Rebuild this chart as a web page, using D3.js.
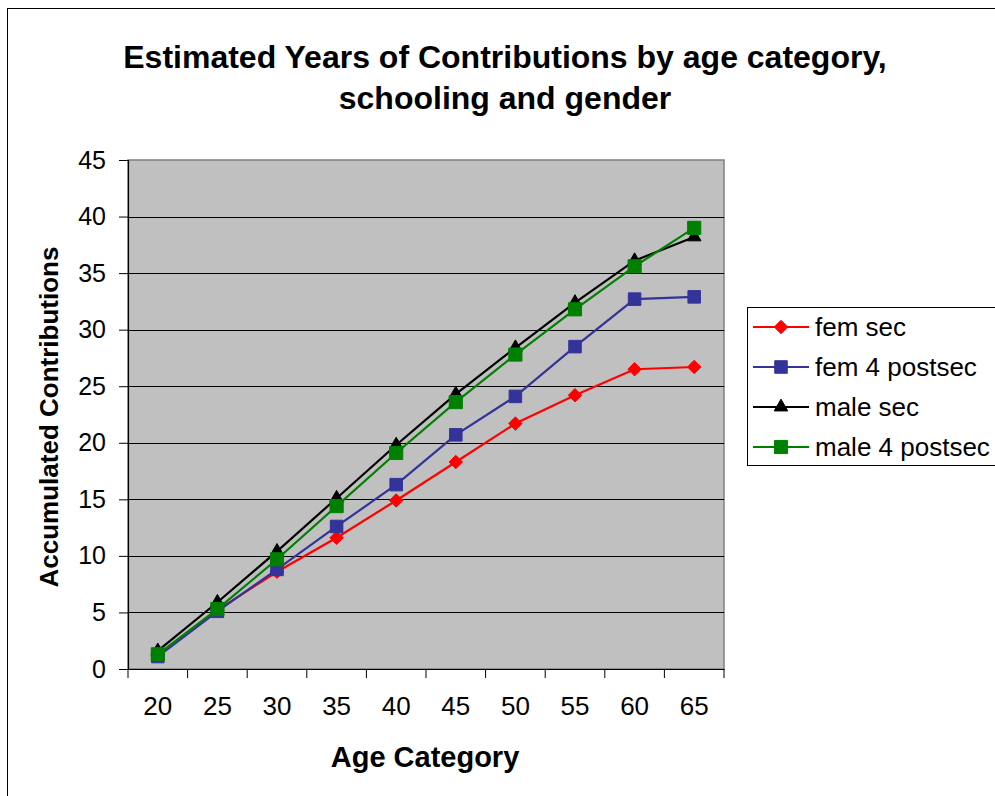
<!DOCTYPE html>
<html>
<head>
<meta charset="utf-8">
<script src="https://cdn.jsdelivr.net/npm/d3@7/dist/d3.min.js"></script>
<style>
  html, body { margin: 0; padding: 0; background: #fff; }
  svg { display: block; font-family: "Liberation Sans", Arial, sans-serif; }
</style>
</head>
<body>
<svg id="chart" width="995" height="796"></svg>
<script>
const categories = ["20", "25", "30", "35", "40", "45", "50", "55", "60", "65"];
const femSec      = [1.2, 5.2, 8.6, 11.6, 14.9, 18.3, 21.7, 24.2, 26.5, 26.7];
const fem4Postsec = [1.1, 5.1, 8.8, 12.6, 16.3, 20.7, 24.1, 28.5, 32.7, 32.9];
const maleSec     = [1.6, 5.9, 10.4, 15.1, 19.8, 24.3, 28.4, 32.4, 36.1, 38.2];
const male4Postsec= [1.3, 5.3, 9.7, 14.4, 19.1, 23.6, 27.8, 31.8, 35.6, 39.0];
const yTicks = [0, 5, 10, 15, 20, 25, 30, 35, 40, 45];
const seriesNames = ["fem sec", "fem 4 postsec", "male sec", "male 4 postsec"];

const series = [
  { name: seriesNames[0], values: femSec,       color: "#FF0000", marker: "diamond" },
  { name: seriesNames[1], values: fem4Postsec,  color: "#333399", marker: "square" },
  { name: seriesNames[2], values: maleSec,      color: "#000000", marker: "triangle" },
  { name: seriesNames[3], values: male4Postsec, color: "#008000", marker: "squareL" }
];

const svg = d3.select("#chart");
const plot = { left: 128, right: 724, top: 160, bottom: 669 };
const FONT = "'Liberation Sans', Arial, sans-serif";

// outer frame
svg.append("rect").attr("x", 7.5).attr("y", 8.5).attr("width", 1000).attr("height", 800)
  .attr("fill", "#fff").attr("stroke", "#000").attr("stroke-width", 1);

const x = d3.scaleBand().domain(categories).range([plot.left, plot.right]);
const y = d3.scaleLinear().domain([0, 45]).range([plot.bottom, plot.top]);

// plot background
svg.append("rect").attr("x", plot.left).attr("y", plot.top)
  .attr("width", plot.right - plot.left).attr("height", plot.bottom - plot.top)
  .attr("fill", "#C0C0C0").attr("stroke", "#808080").attr("stroke-width", 1.5);

// gridlines
svg.append("g").selectAll("line").data(yTicks.filter(t => t > 0 && t < 45)).join("line")
  .attr("x1", plot.left).attr("x2", plot.right)
  .attr("y1", d => Math.round(y(d)) + 0.5).attr("y2", d => Math.round(y(d)) + 0.5)
  .attr("stroke", "#000").attr("stroke-width", 1);

// y axis
const yAxis = d3.axisLeft(y).tickValues(yTicks).tickSize(9).tickPadding(13);
const gy = svg.append("g").attr("transform", `translate(${plot.left},0)`).call(yAxis);
gy.select(".domain").attr("stroke", "#000").attr("stroke-width", 1.2);
gy.selectAll(".tick line").attr("stroke", "#000");
gy.selectAll(".tick text").attr("font-size", 25).attr("fill", "#000").attr("font-family", FONT);

// x axis
const xAxis = d3.axisBottom(x).tickSize(0).tickPadding(28);
const gx = svg.append("g").attr("transform", `translate(0,${plot.bottom})`).call(xAxis);
gx.select(".domain").attr("stroke", "#000").attr("stroke-width", 1.2);
gx.selectAll(".tick text").attr("font-size", 26).attr("fill", "#000").attr("font-family", FONT);
// tick marks at band boundaries
const bounds = categories.map(c => x(c)).concat([x(categories[categories.length - 1]) + x.bandwidth()]);
gx.append("g").selectAll("line").data(bounds).join("line")
  .attr("x1", d => d).attr("x2", d => d).attr("y1", 0).attr("y2", 9)
  .attr("stroke", "#000").attr("stroke-width", 1);

// lines and markers
const line = d3.line().x((d, i) => x(categories[i]) + x.bandwidth() / 2).y(d => y(d));
const symbolFor = {
  diamond: d3.symbol().type(d3.symbolDiamond2).size(115),
  square: d3.symbol().type(d3.symbolSquare2).size(200),
  triangle: d3.symbol().type(d3.symbolTriangle).size(80),
  squareL: d3.symbol().type(d3.symbolSquare2).size(220)
};
series.forEach(s => {
  const g = svg.append("g");
  g.append("path").datum(s.values).attr("d", line)
    .attr("fill", "none").attr("stroke", s.color).attr("stroke-width", 2.2);
  g.selectAll("path.m").data(s.values).join("path").attr("class", "m")
    .attr("transform", (d, i) => `translate(${x(categories[i]) + x.bandwidth() / 2},${y(d)})`)
    .attr("d", symbolFor[s.marker]())
    .attr("fill", s.color).attr("stroke", s.color).attr("stroke-width", 1);
});

// title
const title = svg.append("text").attr("text-anchor", "middle").attr("font-weight", "bold")
  .attr("font-size", 32).attr("fill", "#000");
title.append("tspan").attr("x", 505).attr("y", 68).text("Estimated Years of Contributions by age category,");
title.append("tspan").attr("x", 505).attr("y", 109).text("schooling and gender");

// axis titles
svg.append("text").attr("x", 425).attr("y", 767).attr("text-anchor", "middle")
  .attr("font-weight", "bold").attr("font-size", 29).text("Age Category");
svg.append("text").attr("transform", "translate(58,417) rotate(-90)").attr("text-anchor", "middle")
  .attr("font-weight", "bold").attr("font-size", 26).text("Accumulated Contributions");

// legend
const leg = svg.append("g");
leg.append("rect").attr("x", 747.5).attr("y", 307.5).attr("width", 260).attr("height", 158)
  .attr("fill", "#fff").attr("stroke", "#000").attr("stroke-width", 1);
series.forEach((s, i) => {
  const cy = 327 + i * 40;
  leg.append("line").attr("x1", 753).attr("x2", 809).attr("y1", cy).attr("y2", cy)
    .attr("stroke", s.color).attr("stroke-width", 2.2);
  leg.append("path").attr("transform", `translate(781,${cy})`).attr("d", symbolFor[s.marker]())
    .attr("fill", s.color).attr("stroke", s.color);
  leg.append("text").attr("x", 815).attr("y", cy + 9).attr("font-size", 26).text(s.name);
});
</script>
</body>
</html>
